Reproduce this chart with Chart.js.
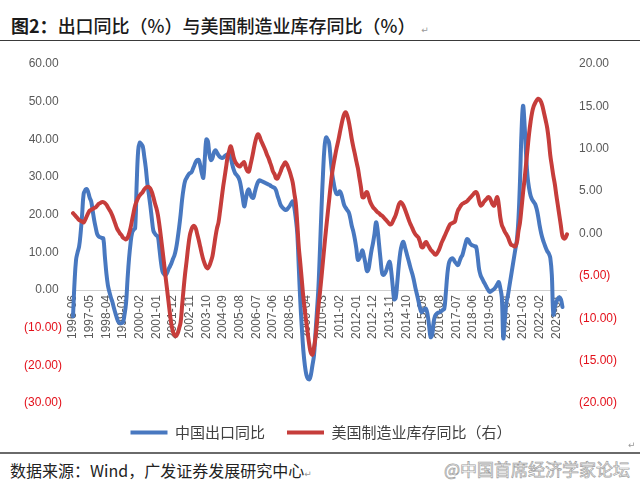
<!DOCTYPE html>
<html>
<head>
<meta charset="utf-8">
<script src="https://cdn.jsdelivr.net/npm/chart.js@4.4.0/dist/chart.umd.min.js"></script>
<style>
html,body{margin:0;padding:0;background:#fff;width:640px;height:493px;overflow:hidden;position:relative;font-family:"Noto Sans CJK SC","Noto Sans",sans-serif;}
#title{position:absolute;left:11px;top:13px;font-size:18px;color:#1a1a1a;white-space:nowrap;line-height:24px;font-weight:500;}
#title b{font-weight:700;}
#rule1{position:absolute;left:0;top:40px;width:640px;height:0;border-top:1.5px solid #3a3a3a;}
#wrap{position:absolute;left:0;top:44px;width:640px;height:406px;}
#rule2{position:absolute;left:0;top:452px;width:640px;height:0;border-top:2px solid #6a6a6a;}
#src{position:absolute;left:10px;top:459px;font-size:16px;color:#222;line-height:22px;white-space:nowrap;}
#wm{position:absolute;left:444px;top:458px;font-size:17px;line-height:22px;color:#fff;-webkit-text-stroke:0.7px #a0a0a0;white-space:nowrap;}
.pm{font-family:"DejaVu Sans",sans-serif;font-size:9px;color:#999;}
#pm2{position:absolute;left:628px;top:440px;}
</style>
</head>
<body>
<div id="title"><b>图2：</b>出口同比（%）与美国制造业库存同比（%）<span class="pm">&nbsp;&nbsp;↵</span></div>
<div id="rule1"></div>
<div id="wrap"><canvas id="c" width="640" height="406"></canvas></div>
<span class="pm" id="pm2">↵</span>
<div id="rule2"></div>
<div id="src">数据来源：Wind，广发证券发展研究中心<span class="pm">↵</span></div>
<div id="wm">@中国首席经济学家论坛</div>
<script>
// ---- categories: monthly, 1996-06 .. 2023-08 ----
const startYear = 1996, startMonth = 6, monthCount = 327;
const months = [];
for (let i = 0; i < monthCount; i++) {
  const t = (startMonth - 1) + i;
  const y = startYear + Math.floor(t / 12);
  const m = (t % 12) + 1;
  months.push(y + '-' + (m < 10 ? '0' + m : '' + m));
}
const labelEvery = 11; // tick label every 11 months

// ---- 中国出口同比 (%, left axis) ----
const chinaExportYoY = [
  -7, 2, 8, 10, 11.5, 15, 20,                                   // 1996 Jun-Dec
  25.5, 26.5, 26.8, 26, 24.5, 23.5, 21, 18.5, 16.5, 14.8, 14.2, 14, // 1997
  13.8, 13.7, 9, 4.5, 1.3, -0.5, -2, -3.2, -4.8, -6.2, -7.5, -8.5,  // 1998
  -8.8, -8.8, -8.6, -6.5, -3.5, 3, 8.5, 12.5, 15.2, 16, 16.4, 28,   // 1999
  37, 39.1, 38.8, 38.2, 35.5, 32.5, 28.5, 25.5, 22.5, 19, 15.8, 15, // 2000
  14.5, 14.2, 11, 7.5, 5, 4.2, 3.9, 4.5, 5.5, 6.3, 7.2, 8.3,        // 2001
  9.3, 11, 13.5, 16.5, 20, 24, 27, 29, 29.8, 30.5, 31, 31.2,        // 2002
  32, 33, 34, 34.5, 34.5, 33, 31, 29.8, 35, 40, 39.5, 36,           // 2003
  34.5, 35, 36.5, 37.1, 36.5, 35.8, 35.3, 35.1, 35.1, 35.5, 35.8, 36, // 2004
  36, 35.3, 33.5, 32, 31, 30.5, 30, 29, 27, 24.5, 22.2, 24,         // 2005
  26, 26.7, 25.5, 24.6, 24.5, 26, 27.5, 28.6, 29.1, 29, 28.8, 28.6, // 2006
  28.4, 28.2, 28, 27.8, 27.5, 27.3, 27.1, 26.4, 25, 23.8, 22.6, 22, // 2007
  21.6, 21.3, 21.3, 21.8, 22.3, 23, 23.5, 22, 19, 15, 6, -3,        // 2008
  -10, -16, -20, -22.5, -23.5, -23.7, -22.5, -20, -17.5, -11.5, -5.5, 1, // 2009
  11, 21.7, 31, 38, 40.5, 40, 39, 35, 31, 28.5, 26.5, 25.5,         // 2010
  25.5, 26.2, 25.5, 24, 22.5, 21.8, 21.2, 20.6, 19, 17, 15.5, 13.5, // 2011
  11, 8, 8.4, 9.5, 10.5, 9, 7, 5, 5.5, 8, 10.5, 12.5,               // 2012
  15, 18, 16, 12, 8, 4.5, 4, 4.5, 5.5, 6.8, 7.5, 5,                 // 2013
  1, -2.5, -2, 2, 6.5, 10, 12, 12.8, 11.5, 10, 8.5, 7,              // 2014
  5.5, 4.2, 2.5, 0.5, -1.2, -3, -4.8, -5.9, -5.5, -5, -5, -6.5,     // 2015
  -9.5, -12.5, -12, -8.5, -6.8, -6.3, -6, -5.9, -5.6, -5.3, -5, -1, // 2016
  4, 7, 8, 8.4, 8.2, 7.5, 7, 6.6, 7.5, 8.6, 9.3, 10.8,              // 2017
  12.3, 13.5, 13.2, 12.4, 12, 11.8, 11.6, 11.5, 9, 5.5, 3.9, 3,     // 2018
  2.2, 1.5, 0.7, 0, -0.5, -0.3, 0, 0.3, 0.8, 1.5, 2.1, 0.5,         // 2019
  -2, -12.8, -8, -3.5, -1.5, 1, 3.5, 6, 8.5, 11, 13.5, 19,          // 2020
  29, 42, 48.9, 44, 36, 30, 27, 25, 24, 23.4, 22.8, 21.5,           // 2021
  19.5, 17, 15, 13.5, 12.3, 11.2, 10.3, 9.7, 8.5, 4, -6.5, -4.5,    // 2022
  -3.2, -2.3, -1.9, -2.5, -4.5                                      // 2023 Jan-May
];

// ---- 美国制造业库存同比 (%, right axis) ----
const usInventoryYoY = [
  2.4, 2.2, 2.0, 1.8, 1.6, 1.5, 1.4,                                // 1996 Jun-Dec
  1.3, 1.6, 2.0, 2.4, 2.7, 2.8, 2.9, 3.0, 3.1, 3.3, 3.5, 3.6,       // 1997
  3.7, 3.7, 3.6, 3.4, 3.1, 2.8, 2.5, 2.1, 1.6, 1.1, 0.6, 0.3,       // 1998
  0.0, -0.2, -0.5, -0.6, -0.7, -0.5, 0.0, 0.7, 1.6, 2.5, 3.3, 3.8,  // 1999
  4.2, 4.5, 4.7, 4.9, 5.2, 5.4, 5.5, 5.5, 5.3, 4.9, 4.3, 3.6,       // 2000
  3.0, 2.2, 1.0, -0.4, -1.9, -3.4, -5.0, -6.5, -8.0, -9.5, -10.8, -11.6, // 2001
  -12.0, -12.1, -11.8, -11.2, -10.5, -8.5, -6.5, -4.7, -3.2, -1.6, -0.3, 0.4, // 2002
  0.8, 0.9, 0.6, -0.1, -0.8, -1.6, -2.4, -3.1, -3.6, -4.0, -4.1, -3.8, // 2003
  -3.3, -2.7, -1.6, -0.4, 0.6, 1.3, 2.6, 4.0, 5.4, 6.6, 7.8, 9.0,   // 2004
  9.7, 10.3, 9.8, 9.0, 8.5, 8.2, 8.0, 7.9, 8.1, 8.3, 8.4, 7.8,      // 2005
  7.4, 7.3, 8.0, 8.8, 9.7, 10.6, 11.3, 11.7, 11.5, 11.0, 10.6, 10.2, // 2006
  9.8, 9.3, 8.9, 8.4, 7.9, 7.3, 7.0, 6.5, 6.5, 6.9, 7.3, 7.8,       // 2007
  8.1, 8.4, 8.2, 7.8, 7.3, 6.7, 6.0, 4.8, 3.6, 1.2, -1.6, -3.5,     // 2008
  -5.5, -7.5, -9.1, -10.5, -11.9, -13.2, -14.1, -14.3, -13.5, -12.3, -10.5, -8.5, // 2009
  -6.9, -5.1, -3.2, -1.3, 0.5, 2.2, 3.9, 5.6, 7.1, 8.2, 9.2, 10.1,  // 2010
  10.9, 11.8, 12.7, 13.5, 14.1, 14.3, 13.9, 13.2, 12.2, 11.1, 10.2, 9.4, // 2011
  8.5, 7.7, 6.6, 5.5, 4.3, 4.3, 4.7, 4.9, 4.4, 3.8, 3.4, 3.1,       // 2012
  2.9, 2.7, 2.5, 2.4, 2.2, 2.1, 1.9, 1.7, 1.5, 1.3, 1.1, 1.1,       // 2013
  1.4, 1.8, 2.2, 2.8, 3.4, 3.7, 3.6, 3.3, 2.9, 2.4, 1.9, 1.4,       // 2014
  1.0, 0.6, 0.2, -0.1, -0.3, -0.5, -1.0, -1.6, -1.6, -1.2, -1.0, -1.3, // 2015
  -1.6, -1.9, -2.1, -2.3, -2.5, -2.4, -2.1, -1.7, -1.2, -0.8, -0.4, 0.0, // 2016
  0.4, 0.8, 1.1, 1.2, 1.3, 1.4, 2.1, 2.7, 3.0, 3.3, 3.5, 3.6,       // 2017
  3.7, 3.8, 4.0, 4.2, 4.4, 4.6, 4.8, 4.9, 4.6, 3.8, 3.3, 3.4,       // 2018
  3.7, 3.9, 4.1, 4.3, 4.2, 3.8, 3.4, 3.3, 3.9, 4.3, 3.4, 1.9,       // 2019
  1.0, 0.6, 0.2, -0.1, -0.4, -0.9, -1.3, -1.4, -1.5, -1.5, -1.0, 0.3, // 2020
  1.3, 3.0, 4.8, 6.4, 8.2, 10.0, 11.8, 13.2, 14.3, 15.0, 15.4, 15.7, // 2021
  15.9, 15.8, 15.5, 14.9, 14.1, 13.3, 12.4, 11.0, 9.2, 8.0, 6.8, 5.8, // 2022
  4.5, 3.3, 2.1, 0.9, -0.3, -0.6, -0.5, -0.1                        // 2023 Jan-Aug
];

// ---- axis ranges / tick steps ----
const leftAxis = { min: -30, max: 60, step: 10 };
const rightAxis = { min: -20, max: 20, step: 5 };

const BLUE = '#4878C0', REDLINE = '#C63D3B', GRAY = '#595959', NEG = '#E3101A';
const tickFont = { family: '"Liberation Sans", Arial, sans-serif', size: 12 };
const fmt = (v, trail) => v < 0 ? '(' + Math.abs(v).toFixed(2) + ')' : v.toFixed(2) + (trail ? ' ' : '');
const tickColor = c => (c.tick && c.tick.value < 0) ? NEG : GRAY;

new Chart(document.getElementById('c'), {
  type: 'line',
  data: {
    labels: months,
    datasets: [
      { label: '中国出口同比', data: chinaExportYoY, yAxisID: 'y', borderColor: BLUE, backgroundColor: BLUE,
        borderWidth: 4, pointRadius: 0, tension: 0.4, order: 1, borderCapStyle: 'round', borderJoinStyle: 'round', fill: false },
      { label: '美国制造业库存同比（右）', data: usInventoryYoY, yAxisID: 'y1', borderColor: REDLINE, backgroundColor: REDLINE,
        borderWidth: 4, pointRadius: 0, tension: 0.4, order: 0, borderCapStyle: 'round', borderJoinStyle: 'round', fill: false }
    ]
  },
  options: {
    responsive: false, animation: false, devicePixelRatio: 1,
    layout: { padding: { left: 13, right: 11, top: 20, bottom: 0 } },
    plugins: {
      legend: {
        position: 'bottom',
        labels: {
          usePointStyle: true, pointStyle: 'line', pointStyleWidth: 37, boxWidth: 37, boxHeight: 4,
          padding: 22, color: '#404040',
          font: { family: '"Noto Sans CJK SC", sans-serif', size: 15 },
          sort: (a, b) => a.datasetIndex - b.datasetIndex
        }
      },
      tooltip: { enabled: false }
    },
    scales: {
      x: {
        type: 'category', position: { y: 0 },
        grid: { display: false, drawTicks: false },
        border: { display: true, color: '#D0D0D0', width: 1 },
        ticks: {
          autoSkip: false, minRotation: 90, maxRotation: 90, padding: 5, color: GRAY, font: tickFont,
          callback: function (v, i) { return i % labelEvery === 0 ? this.getLabelForValue(v) : null; }
        }
      },
      y: {
        position: 'left', min: leftAxis.min, max: leftAxis.max,
        grid: { display: false, drawTicks: false }, border: { display: false },
        ticks: { stepSize: leftAxis.step, padding: 11, font: tickFont, color: tickColor, callback: v => fmt(v, true) }
      },
      y1: {
        position: 'right', min: rightAxis.min, max: rightAxis.max,
        grid: { display: false, drawTicks: false }, border: { display: false },
        ticks: { stepSize: rightAxis.step, padding: 12, font: tickFont, color: tickColor, callback: v => fmt(v, false) }
      }
    }
  }
});
</script>
</body>
</html>
